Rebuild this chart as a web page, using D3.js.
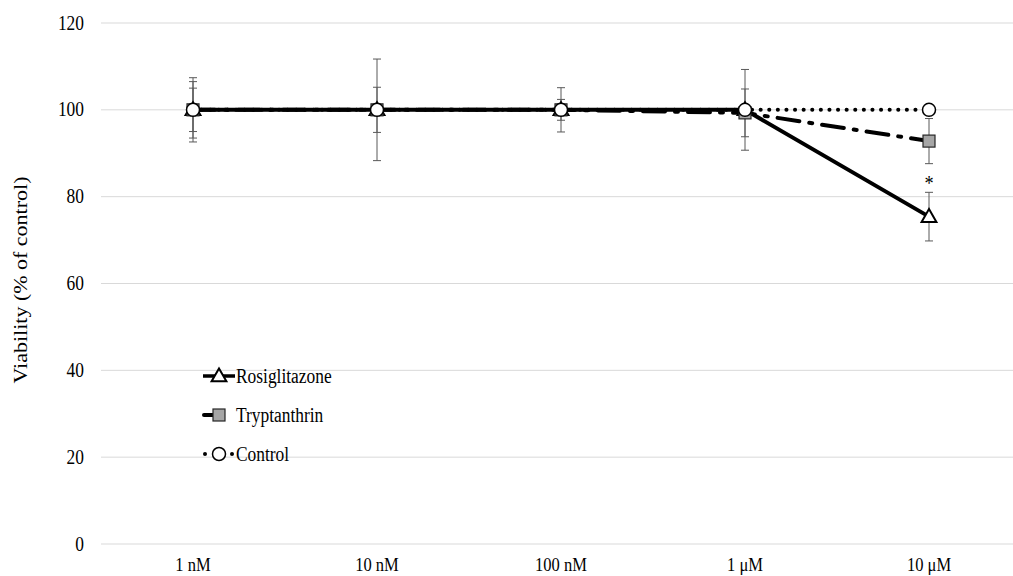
<!DOCTYPE html>
<html>
<head>
<meta charset="utf-8">
<script src="https://cdn.jsdelivr.net/npm/d3@7"></script>
<style>
  body { margin: 0; background: #fff; }
  text { font-family: "Liberation Serif", "Times New Roman", serif; fill: #000; }
</style>
</head>
<body>
<svg width="1013" height="576"></svg>
<script>
var categories = ["1 nM", "10 nM", "100 nM", "1 μM", "10 μM"];
var yTicks = [0, 20, 40, 60, 80, 100, 120];

var rosiglitazone = [100, 100, 100, 100, 75.4];
var rosiglitazoneErr = [7.4, 11.7, 5.1, 9.3, 5.6];
var tryptanthrin = [100, 100, 100, 99.3, 92.8];
var tryptanthrinErr = [6.5, 5.2, 2.4, 5.5, 5.2];
var control = [100, 100, 100, 100, 100];
var controlErr = [5.0, 0, 1.0, 0, 0];

var series = [
  {name: "Tryptanthrin", values: tryptanthrin, err: tryptanthrinErr, dash: "22,10,3,10", width: 4, marker: "square"},
  {name: "Rosiglitazone", values: rosiglitazone, err: rosiglitazoneErr, dash: null, width: 4, marker: "triangle"},
  {name: "Control", values: control, err: controlErr, dash: "0.1,8.5", width: 4, marker: "circle"}
];

var squeeze = 0.87; // the text in the picture is narrowed a little

var svg = d3.select("svg");

var x = d3.scaleBand().domain(categories).range([101, 1021]);
var y = d3.scaleLinear().domain([0, 120]).range([544, 23]);
function cx(c) { return x(c) + x.bandwidth() / 2; }

function label(g, tx, ty, str, size, anchor) {
  return g.append("text")
    .attr("transform", "translate(" + tx + "," + ty + ") scale(" + squeeze + ",1)")
    .attr("text-anchor", anchor).attr("font-size", size)
    .text(str);
}

// gridlines
svg.append("g").selectAll("line").data(yTicks).enter().append("line")
  .attr("x1", 101).attr("x2", 1013)
  .attr("y1", function(d) { return y(d); }).attr("y2", function(d) { return y(d); })
  .attr("stroke", "#d9d9d9").attr("stroke-width", 1);

// y tick labels
var yl = svg.append("g");
yTicks.forEach(function(t) { label(yl, 84, y(t) + 6.5, t, 20, "end"); });

// x labels
var xl = svg.append("g");
categories.forEach(function(c) { label(xl, cx(c), 571, c, 19, "middle"); });

svg.append("text")
  .attr("transform", "translate(27," + 280 + ") scale(" + squeeze + ",1) rotate(-90)")
  .attr("text-anchor", "middle").attr("font-size", 22)
  .text("Viability (% of control)");

// error bars
series.forEach(function(s) {
  var g = svg.append("g").attr("stroke", "#595959").attr("stroke-width", 1);
  categories.forEach(function(c, i) {
    if (!s.err[i]) return;
    var xp = cx(c), hi = y(s.values[i] + s.err[i]), lo = y(s.values[i] - s.err[i]);
    g.append("line").attr("x1", xp).attr("x2", xp).attr("y1", hi).attr("y2", lo);
    g.append("line").attr("x1", xp - 4).attr("x2", xp + 4).attr("y1", hi).attr("y2", hi);
    g.append("line").attr("x1", xp - 4).attr("x2", xp + 4).attr("y1", lo).attr("y2", lo);
  });
});

var line = d3.line()
  .x(function(d, i) { return cx(categories[i]); })
  .y(function(d) { return y(d); });

series.forEach(function(s) {
  svg.append("path").datum(s.values)
    .attr("d", line)
    .attr("fill", "none").attr("stroke", "#000")
    .attr("stroke-width", s.width)
    .attr("stroke-linecap", s.dash ? "round" : "butt")
    .attr("stroke-dasharray", s.dash);
});

function drawMarker(g, type, xp, yp) {
  if (type === "circle") {
    g.append("circle").attr("cx", xp).attr("cy", yp).attr("r", 6.5)
      .attr("fill", "#fff").attr("stroke", "#000").attr("stroke-width", 1.5);
  } else if (type === "square") {
    g.append("rect").attr("x", xp - 6).attr("y", yp - 6).attr("width", 12).attr("height", 12)
      .attr("fill", "#a6a6a6").attr("stroke", "#262626").attr("stroke-width", 1.2);
  } else {
    g.append("path")
      .attr("d", d3.symbol().type(d3.symbolTriangle).size(95)())
      .attr("transform", "translate(" + xp + "," + (yp + 1) + ")")
      .attr("fill", "#fff").attr("stroke", "#000").attr("stroke-width", 2);
  }
}

// markers: triangles first, then squares, then circles
["triangle", "square", "circle"].forEach(function(m) {
  var s = series.filter(function(d) { return d.marker === m; })[0];
  var g = svg.append("g");
  s.values.forEach(function(v, i) { drawMarker(g, m, cx(categories[i]), y(v)); });
});

// significance
label(svg, cx(categories[4]), y(rosiglitazone[4] + rosiglitazoneErr[4]) - 2, "*", 21, "middle");

// legend
var legendOrder = ["Rosiglitazone", "Tryptanthrin", "Control"];
legendOrder.forEach(function(name, i) {
  var s = series.filter(function(d) { return d.name === name; })[0];
  var ly = 376 + i * 39;
  var g = svg.append("g");
  if (s.marker === "square") {
    g.append("line").attr("x1", 204).attr("x2", 214).attr("y1", ly).attr("y2", ly)
      .attr("stroke", "#000").attr("stroke-width", 4).attr("stroke-linecap", "round");
  } else if (s.marker === "circle") {
    g.selectAll(".dot").data([205, 232]).enter().append("circle")
      .attr("cx", function(d) { return d; }).attr("cy", ly).attr("r", 2).attr("fill", "#000");
  } else {
    g.append("line").attr("x1", 203).attr("x2", 235).attr("y1", ly).attr("y2", ly)
      .attr("stroke", "#000").attr("stroke-width", 3.5);
  }
  drawMarker(g, s.marker, 219, ly);
  label(g, 236, ly + 6.5, name, 20, "start");
});
</script>
</body>
</html>
